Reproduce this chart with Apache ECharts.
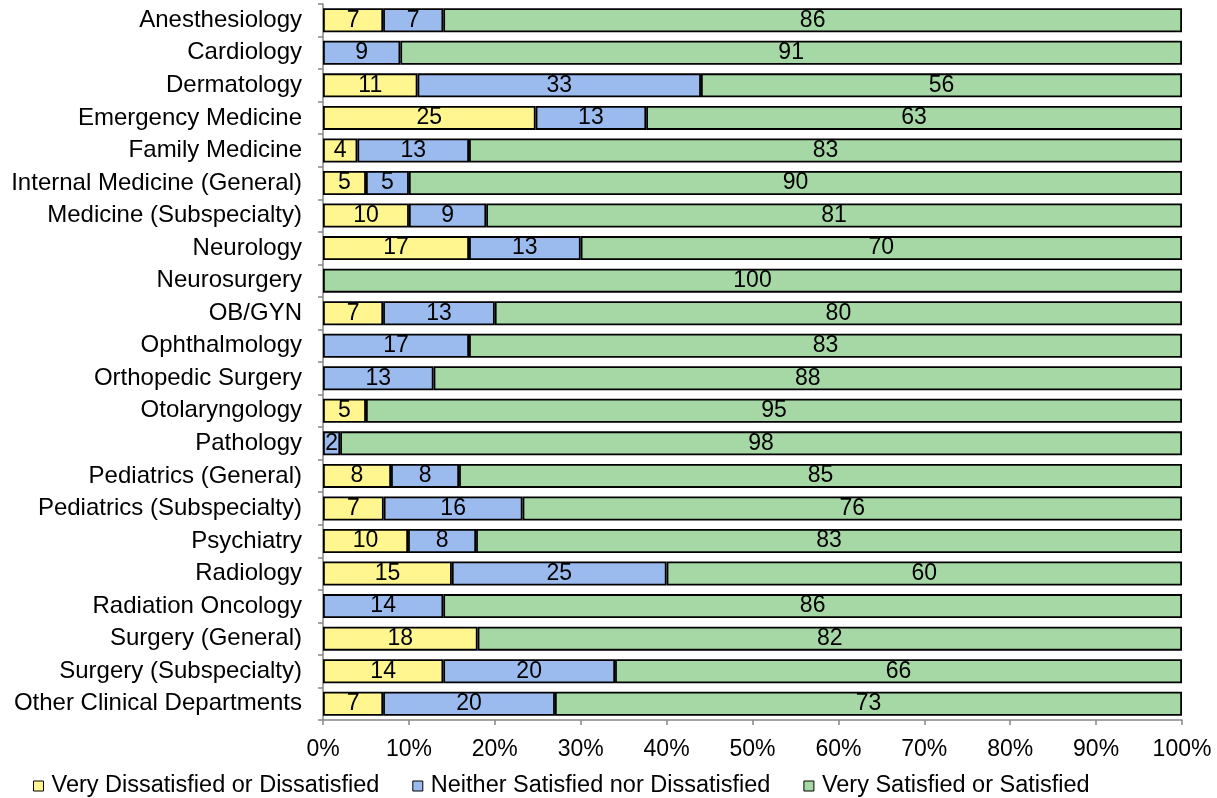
<!DOCTYPE html>
<html>
<head>
<meta charset="utf-8">
<script src="https://cdn.jsdelivr.net/npm/echarts@6/dist/echarts.min.js"></script>
<style>
  html, body { margin: 0; padding: 0; background: #fff; }
  #chart { width: 1217px; height: 798px; }
</style>
</head>
<body>
<div id="chart"></div>
<script>
// Departments, top to bottom
const departments = [
  'Anesthesiology', 'Cardiology', 'Dermatology', 'Emergency Medicine',
  'Family Medicine', 'Internal Medicine (General)', 'Medicine (Subspecialty)',
  'Neurology', 'Neurosurgery', 'OB/GYN', 'Ophthalmology', 'Orthopedic Surgery',
  'Otolaryngology', 'Pathology', 'Pediatrics (General)', 'Pediatrics (Subspecialty)',
  'Psychiatry', 'Radiology', 'Radiation Oncology', 'Surgery (General)',
  'Surgery (Subspecialty)', 'Other Clinical Departments'
];

// Rounded percentages per response group
const dissatisfied = [7, 0, 11, 25, 4, 5, 10, 17, 0, 7, 0, 0, 5, 0, 8, 7, 10, 15, 0, 18, 14, 7];
const neutral      = [7, 9, 33, 13, 13, 5, 9, 13, 0, 13, 17, 13, 0, 2, 8, 16, 8, 25, 14, 0, 20, 20];
const satisfied    = [86, 91, 56, 63, 83, 90, 81, 70, 100, 80, 83, 88, 95, 98, 85, 76, 83, 60, 86, 82, 66, 73];

const seriesNames = [
  'Very Dissatisfied or Dissatisfied',
  'Neither Satisfied nor Dissatisfied',
  'Very Satisfied or Satisfied'
];
const seriesColors = ['#FFF68F', '#9BBBEE', '#A6D8A6'];

const xTicks = [0, 10, 20, 30, 40, 50, 60, 70, 80, 90, 100];

// Each row is a 100% stacked bar: scale the rounded values to the row total
const totals = departments.map((_, i) => dissatisfied[i] + neutral[i] + satisfied[i]);
function toShares(values) {
  return values.map((v, i) => (v > 0 ? v / totals[i] * 100 : '-'));
}

const font = 'Liberation Sans, Arial, sans-serif';
const groups = [dissatisfied, neutral, satisfied];

const chart = echarts.init(document.getElementById('chart'), null, { renderer: 'canvas' });
chart.setOption({
  animation: false,
  backgroundColor: '#ffffff',
  grid: { left: 323, right: 35, top: 4, bottom: 78, containLabel: false },
  legend: {
    left: 28,
    top: 769,
    icon: 'rect',
    itemWidth: 10,
    itemHeight: 10,
    itemGap: 33,
    itemStyle: { borderColor: '#000', borderWidth: 1 },
    textStyle: { fontFamily: font, fontSize: 23.5, color: '#000', padding: [0, 0, 0, 3] },
    data: seriesNames
  },
  xAxis: {
    type: 'value',
    min: xTicks[0],
    max: xTicks[xTicks.length - 1],
    interval: 10,
    axisLine: { show: true, lineStyle: { color: '#868686', width: 1.5 } },
    axisTick: { show: true, length: 5, lineStyle: { color: '#868686', width: 1.5 } },
    splitLine: { show: false },
    axisLabel: {
      formatter: '{value}%',
      fontFamily: font, fontSize: 23, color: '#000', margin: 18
    }
  },
  yAxis: {
    type: 'category',
    data: departments,
    inverse: true,
    axisLine: { show: true, lineStyle: { color: '#868686', width: 1.5 } },
    axisTick: { show: true, length: 5, alignWithLabel: false, lineStyle: { color: '#868686', width: 1.5 } },
    axisLabel: { fontFamily: font, fontSize: 24, color: '#000', margin: 21 }
  },
  series: groups.map((vals, k) => ({
    name: seriesNames[k],
    type: 'bar',
    stack: 'share',
    barWidth: 24,
    data: toShares(vals),
    itemStyle: { color: seriesColors[k], borderColor: '#000', borderWidth: 1.8 },
    label: {
      show: true,
      position: 'inside',
      fontFamily: font,
      fontSize: 23,
      color: '#000',
      formatter: p => String(vals[p.dataIndex])
    }
  }))
});
</script>
</body>
</html>
